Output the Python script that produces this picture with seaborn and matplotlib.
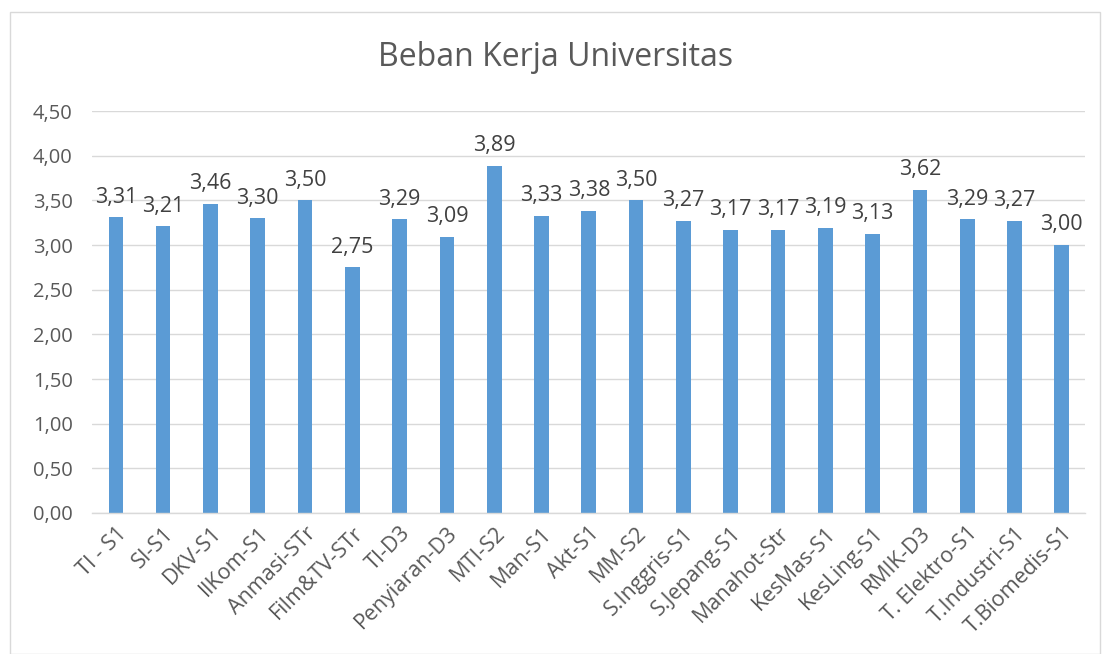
import matplotlib
matplotlib.use("Agg")
import matplotlib.pyplot as plt
import seaborn as sns
import pandas as pd
from matplotlib.patches import Rectangle

categories = ["TI - S1", "SI-S1", "DKV-S1", "IlKom-S1", "Anmasi-STr", "Film&TV-STr",
              "TI-D3", "Penyiaran-D3", "MTI-S2", "Man-S1", "Akt-S1", "MM-S2",
              "S.Inggris-S1", "S.Jepang-S1", "Manahot-Str", "KesMas-S1", "KesLing-S1",
              "RMIK-D3", "T. Elektro-S1", "T.Industri-S1", "T.Biomedis-S1"]
values = [3.31, 3.21, 3.46, 3.30, 3.50, 2.75, 3.29, 3.09, 3.89, 3.33, 3.38, 3.50,
          3.27, 3.17, 3.17, 3.19, 3.13, 3.62, 3.29, 3.27, 3.00]
yticks = [0.0, 0.5, 1.0, 1.5, 2.0, 2.5, 3.0, 3.5, 4.0, 4.5]
title = "Beban Kerja Universitas"

df = pd.DataFrame({"cat": categories, "val": values})

sns.set_theme(style="white")
plt.rcParams['font.family'] = ['Open Sans', 'DejaVu Sans']
text_color = "#595959"

fig = plt.figure(figsize=(11.11, 6.54), dpi=100)
ax = fig.add_axes([0.083, 0.2156, 0.894, 0.6144])

sns.barplot(data=df, x="cat", y="val", color="#5B9BD5", width=0.31, ax=ax,
            saturation=1, edgecolor="none")

ax.set_ylim(0, 4.5)
ax.set_yticks(yticks)
ax.set_yticklabels([f"{v:.2f}".replace(".", ",") for v in yticks],
                   fontsize=14.5, color=text_color)
ax.set_xticks(range(len(categories)))
ax.set_xticklabels(categories, rotation=45, ha="right", rotation_mode="anchor",
                   fontsize=15.5, color=text_color)
ax.tick_params(axis="x", pad=7, length=0)
ax.tick_params(axis="y", pad=14, length=0)
ax.set_xlim(-0.5, len(categories) - 0.5)
ax.set_xlabel("")
ax.set_ylabel("")
ax.yaxis.grid(True, color="#D9D9D9", linewidth=1)
ax.set_axisbelow(True)
for s in ["top", "right", "left"]:
    ax.spines[s].set_visible(False)
ax.spines["bottom"].set_color("#D9D9D9")
ax.spines["bottom"].set_linewidth(1)

for i, v in enumerate(values):
    ax.annotate(f"{v:.2f}".replace(".", ","), (i, v), xytext=(0, 7),
                textcoords="offset points", ha="center", va="bottom",
                fontsize=15.5, color="#404040")

fig.text(0.5, 1 - 58 / 654, title, ha="center", va="center", fontsize=23,
         color=text_color)

fig.patches.append(Rectangle((10 / 1111, 0), 1090 / 1111, 1 - 12 / 654,
                             transform=fig.transFigure, fill=False,
                             edgecolor="#D9D9D9", linewidth=1))

fig.savefig("out.png", dpi=100, facecolor="white")
